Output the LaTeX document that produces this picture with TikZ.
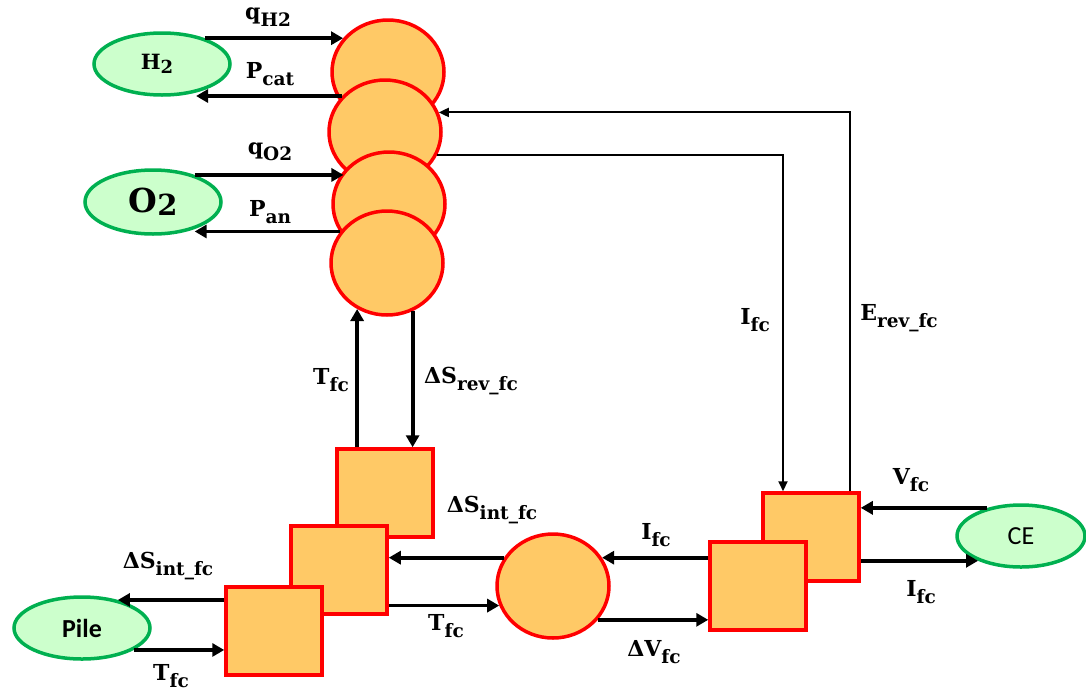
\documentclass[tikz,border=0pt]{standalone}
\usepackage{fontspec}
\setmainfont{DejaVu Serif}
\newfontfamily\calib{Carlito}
\usetikzlibrary{arrows.meta,shapes.geometric,calc}
\definecolor{orfill}{HTML}{FFC966}
\definecolor{gfill}{HTML}{CCFFCC}
\definecolor{gline}{HTML}{00B050}
\newcommand{\lb}[2]{\textbf{#1\raisebox{-6.5pt}{\fontsize{18.5}{19}\selectfont #2}}}
\begin{document}
\begin{tikzpicture}[x=1pt,y=-1pt,
 blob/.style={ellipse,draw=red,fill=orfill,line width=3.5pt,minimum width=112pt,minimum height=104pt,inner sep=0pt},
 box/.style={rectangle,draw=red,fill=orfill,line width=3.5pt,minimum width=96pt,minimum height=88pt,inner sep=0pt},
 src/.style={ellipse,draw=gline,fill=gfill,line width=3.5pt,inner sep=0pt},
 arr/.style={line width=3.8pt,-{Triangle[length=12pt,width=13pt]}},
 tarr/.style={line width=2pt,-{Triangle[length=10pt,width=9pt]}},
 lab/.style={font=\fontsize{22}{24}\selectfont,inner sep=0pt}]
\useasboundingbox[fill=white] (0,0) rectangle (1086,691);
% sources
\node[src,minimum width=136pt,minimum height=62pt,font=\fontsize{21}{22}\selectfont\bfseries] (h2) at (162,64) {\hspace*{-10pt}H\raisebox{-4pt}{\fontsize{18}{18}\selectfont 2}};
\node[src,minimum width=136pt,minimum height=64pt,font=\fontsize{33}{34}\selectfont\bfseries] (o2) at (153,202) {O\raisebox{-3pt}{\fontsize{29}{30}\selectfont 2}};
\node[src,minimum width=136pt,minimum height=62pt,font=\calib\fontsize{26}{28}\selectfont\bfseries] (pile) at (82,628) {Pile};
\node[src,minimum width=128pt,minimum height=62pt,font=\calib\fontsize{26}{28}\selectfont] (ce) at (1021,536) {CE};
% stack of circles
\node[blob] (c1) at (388,72) {};
\node[blob] (c2) at (385,132) {};
\node[blob] (c3) at (389,204) {};
\node[blob] (c4) at (387,263) {};
% squares
\node[box] (sqA) at (385,493) {};
\node[box] (sqB) at (339,570) {};
\node[box] (sqC) at (274,631) {};
\node[blob] (sc) at (553,586) {};
\node[box] (sqE) at (811,537) {};
\node[box] (sqD) at (758,586) {};
% top arrows
\draw[arr] (h2.31) -- (h2.31 -| c1.143);
\draw[arr] (c2.140) -- (c2.140 -| h2.-40);
\draw[arr] (o2.33) -- (o2.33 -| c3.144);
\draw[arr] (c4.146) -- (c4.146 -| o2.-33);
\node[lab] at (268,17) {\lb{q}{H2}};
\node[lab] at (270,74) {\lb{P}{cat}};
\node[lab] at (270,152) {\lb{q}{O2}};
\node[lab] at (270,212) {\lb{P}{an}};
% vertical arrows
\draw[arr] (c4.237 |- sqA.north) -- (c4.237);
\draw[arr] (c4.298) -- (c4.298 |- sqA.north);
\node[lab] at (331,380) {\lb{T}{fc}};
\node[lab] at (471,381) {\lb{ΔS}{rev\_fc}};
\node[lab] at (492,510) {\lb{ΔS}{int\_fc}};
% middle arrows
\draw[arr] (sc.150) -- (sc.150 -| sqB.east);
\draw[arr] (sc.200 -| sqB.east) -- (sc.200);
\node[lab] at (446,626) {\lb{T}{fc}};
\draw[arr] (sc.30 -| sqD.west) -- (sc.30);
\draw[arr] (sc.-37) -- (sc.-37 -| sqD.west);
\node[lab] at (656,535) {\lb{I}{fc}};
\node[lab] at (654,652) {\lb{ΔV}{fc}};
% pile arrows
\draw[arr] (sqC.west |- pile.38) -- (pile.38);
\draw[arr] (pile.-23) -- (pile.-23 -| sqC.west);
\node[lab] at (168,566) {\lb{ΔS}{int\_fc}};
\node[lab] at (171,676) {\lb{T}{fc}};
% feedback lines
\draw[tarr] (c2.-24) -| ([xshift=-28pt]sqE.north);
\draw[tarr] ([xshift=39pt]sqE.north) |- (c2.20);
\node[lab] at (755,320) {\lb{I}{fc}};
\node[lab] at (899,318) {\lb{E}{rev\_fc}};
% CE arrows
\draw[arr] (ce.140) -- (ce.140 -| sqE.east);
\draw[arr] (ce.210 -| sqE.east) -- (ce.210);
\node[lab] at (911,480) {\lb{V}{fc}};
\node[lab] at (921,592) {\lb{I}{fc}};
\end{tikzpicture}
\end{document}
